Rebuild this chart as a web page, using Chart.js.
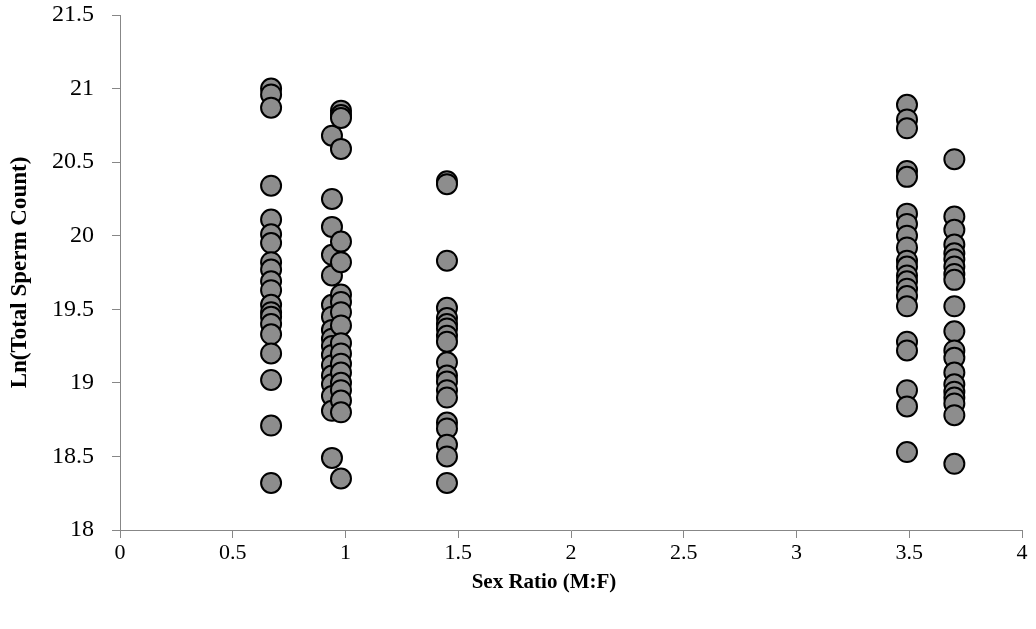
<!DOCTYPE html>
<html>
<head>
<meta charset="utf-8">
<script src="https://cdn.jsdelivr.net/npm/chart.js@4"></script>
<style>
  html, body { margin: 0; padding: 0; background: #fff; }
  #wrap { width: 1036px; height: 629px; }
</style>
</head>
<body>
<div id="wrap"><canvas id="scatterChart" width="1036" height="629"></canvas></div>
<script>
  // sex ratio of each group (x) and the Ln(total sperm count) values (y)
  const groupA_x = 0.67;
  const groupA_y = [21.0, 20.96, 20.87, 20.34, 20.11, 20.01, 19.95, 19.82, 19.77, 19.69, 19.63,
                    19.53, 19.48, 19.45, 19.40, 19.33, 19.20, 19.02, 18.71, 18.32];
  const groupB1_x = 0.94;
  const groupB1_y = [20.68, 20.25, 20.06, 19.87, 19.73, 19.53, 19.45, 19.36, 19.30, 19.25, 19.19,
                     19.12, 19.05, 18.99, 18.91, 18.81, 18.49];
  const groupB2_x = 0.98;
  const groupB2_y = [20.85, 20.82, 20.80, 20.59, 19.96, 19.82, 19.60, 19.55, 19.48, 19.39, 19.27,
                     19.20, 19.13, 19.07, 19.00, 18.95, 18.88, 18.80, 18.35];
  const groupC_x = 1.45;
  const groupC_y = [20.37, 20.35, 19.83, 19.51, 19.44, 19.40, 19.37, 19.32, 19.28, 19.14, 19.05,
                    19.01, 18.95, 18.90, 18.73, 18.69, 18.58, 18.50, 18.32];
  const groupD_x = 3.49;
  const groupD_y = [20.89, 20.79, 20.73, 20.44, 20.40, 20.15, 20.08, 20.00, 19.92, 19.83, 19.79,
                    19.73, 19.69, 19.64, 19.59, 19.52, 19.28, 19.22, 18.95, 18.84, 18.53];
  const groupE_x = 3.70;
  const groupE_y = [20.52, 20.13, 20.04, 19.94, 19.88, 19.84, 19.79, 19.74, 19.70, 19.52, 19.35,
                    19.22, 19.17, 19.07, 18.99, 18.94, 18.90, 18.86, 18.78, 18.45];

  const xTitle = 'Sex Ratio (M:F)';
  const yTitle = 'Ln(Total Sperm Count)';

  const groups = [
    [groupA_x, groupA_y], [groupB1_x, groupB1_y], [groupB2_x, groupB2_y],
    [groupC_x, groupC_y], [groupD_x, groupD_y], [groupE_x, groupE_y]
  ];

  const points = [];
  groups.forEach(g => g[1].forEach(v => points.push({ x: g[0], y: v })));

  const axisGrey = '#878787';

  // x axis title, centred a bit left of the plot centre like the original
  const xTitlePlugin = {
    id: 'xTitlePlugin',
    afterDraw(chart) {
      const ctx = chart.ctx;
      ctx.save();
      ctx.font = 'bold 21px "Liberation Serif"';
      ctx.fillStyle = '#000';
      ctx.textAlign = 'center';
      ctx.textBaseline = 'middle';
      ctx.fillText(xTitle, 544, 583);
      ctx.restore();
    }
  };

  new Chart(document.getElementById('scatterChart').getContext('2d'), {
    type: 'scatter',
    data: {
      datasets: [{
        data: points,
        pointRadius: 10,
        pointHoverRadius: 10,
        backgroundColor: '#8d8d8d',
        borderColor: '#000000',
        borderWidth: 2
      }]
    },
    options: {
      responsive: false,
      animation: false,
      layout: { padding: { top: 15, right: 14, left: 0, bottom: 0 } },
      plugins: { legend: { display: false }, tooltip: { enabled: false } },
      scales: {
        x: {
          type: 'linear',
          min: 0, max: 4,
          afterFit: s => { s.height = 99; },
          ticks: { stepSize: 0.5, color: '#000', font: { family: 'Liberation Serif', size: 22 }, padding: 2,
                   callback: v => String(v) },
          grid: { drawOnChartArea: false, color: axisGrey, tickLength: 8 },
          border: { color: axisGrey, width: 1 }
        },
        y: {
          type: 'linear',
          min: 18, max: 21.5,
          // keep the tick padding from pushing the plot top down
          afterFit: s => { s.width = 120; s.paddingTop = 0; s.paddingBottom = 0; },
          ticks: { stepSize: 0.5, color: '#000', font: { family: 'Liberation Serif', size: 24 }, padding: 18,
                   callback: v => String(v) },
          grid: { drawOnChartArea: false, color: axisGrey, tickLength: 8 },
          border: { color: axisGrey, width: 1 },
          title: { display: true, text: yTitle, color: '#000',
                   font: { family: 'Liberation Serif', size: 23, weight: 'bold' }, padding: { top: 6, bottom: 0 } }
        }
      }
    },
    plugins: [xTitlePlugin]
  });
</script>
</body>
</html>
